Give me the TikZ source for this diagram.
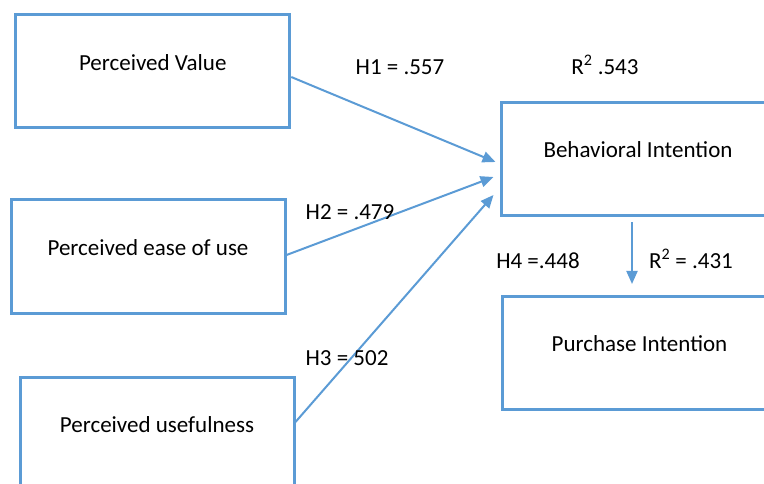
\documentclass[tikz,border=0pt]{standalone}
\usepackage{fontspec}
\setmainfont{Carlito}
\usepackage{tikz}
\usetikzlibrary{arrows.meta}
\definecolor{boxblue}{HTML}{5B9BD5}

\begin{document}
\begin{tikzpicture}[x=1pt, y=-1pt,
    every node/.style={font=\fontsize{23}{28}\selectfont},
    construct/.style={draw=boxblue, line width=3pt, minimum width=274pt,
        minimum height=113pt, inner sep=0pt, text height=15pt, text depth=17.5pt},
    hyp/.style={draw=boxblue, line width=2pt, -{Triangle[length=13pt, width=11pt]}},
    coef/.style={anchor=base}]
    % Frame
    \useasboundingbox (0,0) rectangle (764,484);

    % Constructs
    \node[construct] (pv)   at (152.75,71.5) {Perceived Value};
    \node[construct] (peou) at (148,256.5)   {Perceived ease of use};
    \node[construct] (pu)   at (157,433.5)   {Perceived usefulness};
    \node[construct] (bi)   at (638,159)     {Behavioral Intention};
    \node[construct] (pi)   at (639.5,353)   {Purchase Intention};

    % Paths
    \draw[hyp] ([yshift=-5.5pt]pv.east) -- ([xshift=-4pt, yshift=-3pt]bi.west);
    \draw[hyp] ([yshift=1.5pt]peou.east) -- ([xshift=-6pt, yshift=-18pt]bi.west);
    \draw[hyp] ([yshift=11.5pt]pu.east) -- ([xshift=-6pt, yshift=-36pt]bi.west);
    \draw[hyp] ([xshift=-6pt, yshift=-5.5pt]bi.south) -- ([xshift=-7.5pt, yshift=11pt]pi.north);

    % Coefficients
    \node[coef] (h1)  at (400,74.5)  {H1 = .557};
    \node[coef] (r1)  at (605,75)    {R\textsuperscript{2} .543};
    \node[coef] (h2)  at (350,220)   {H2 = .479};
    \node[coef] (h3)  at (347,365.3) {H3 = 502};
    \node[coef] (h4)  at (538,268.3) {H4 =.448};
    \node[coef] (r2)  at (691,268.3) {R\textsuperscript{2} = .431};
\end{tikzpicture}
\end{document}
